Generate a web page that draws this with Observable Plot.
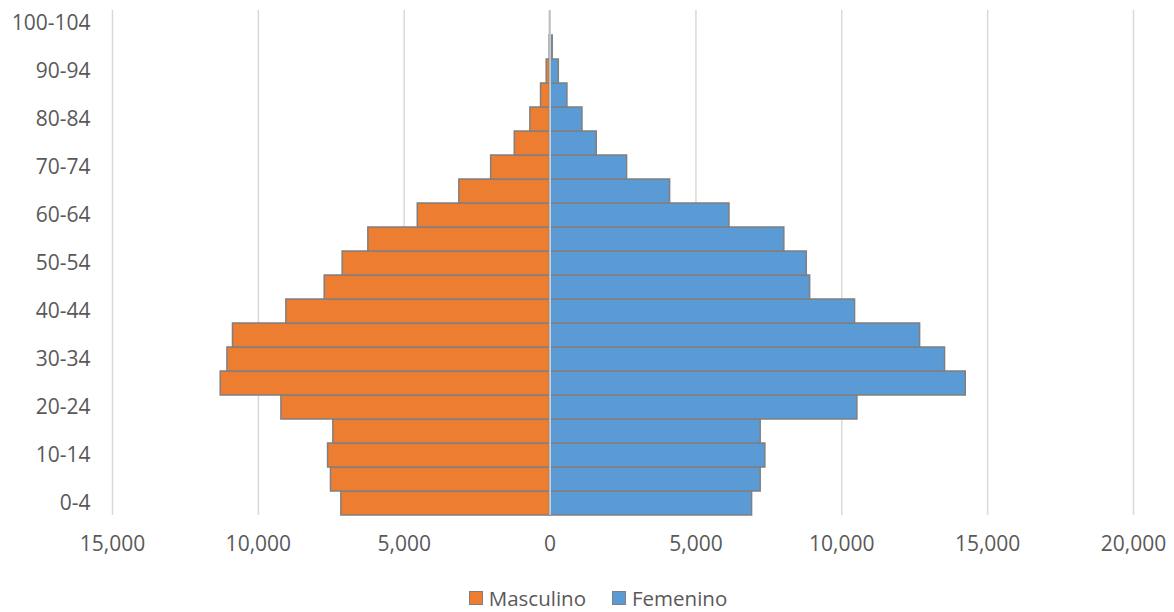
<!DOCTYPE html>
<html>
<head>
<meta charset="utf-8">
<script src="https://cdn.jsdelivr.net/npm/d3@7"></script>
<script src="https://cdn.jsdelivr.net/npm/@observablehq/plot@0.6"></script>
<style>
  body { margin: 0; background: #fff; font-family: "Open Sans", sans-serif; }
  #chart { width: 1174px; }
  .legend { display: flex; justify-content: center; align-items: center; gap: 26px; height: 52px; margin-top: 12px; font-size: 20.5px; color: #595959; padding-left: 22px; box-sizing: border-box; }
  .legend span.sw { display: inline-block; width: 14px; height: 14px; border: 1.5px solid #7f7f7f; margin-right: 6px; box-sizing: border-box; }
  .legend .item { display: flex; align-items: center; }
</style>
</head>
<body>
<div id="chart"></div>
<script>
const ages = ["0-4","5-9","10-14","15-19","20-24","25-29","30-34","35-39","40-44","45-49","50-54","55-59","60-64","65-69","70-74","75-79","80-84","85-89","90-94","95-99","100-104"];
const masculino = [7155,7510,7610,7430,9210,11290,11060,10870,9040,7725,7110,6230,4535,3110,2020,1210,675,310,115,10,0];
const femenino = [6925,7220,7380,7220,10535,14250,13540,12685,10455,8915,8800,8030,6150,4115,2640,1600,1110,595,300,90,15];
const xTicks = [-15000,-10000,-5000,0,5000,10000,15000,20000];
const yTickLabels = ages.filter((d, i) => i % 2 === 0);
const series = ["Masculino", "Femenino"];
const colors = ["#ed7d31", "#5b9bd5"];

const rows = [];
ages.forEach((a, i) => {
  rows.push({age: a, sexo: series[0], value: -masculino[i]});
  rows.push({age: a, sexo: series[1], value: femenino[i]});
});

const fmt = d3.format(",");
const chart = Plot.plot({
  width: 1174,
  height: 560,
  marginLeft: 112,
  marginRight: 41,
  marginTop: 10,
  marginBottom: 45,
  style: {fontFamily: "'Open Sans', sans-serif", fontSize: "21px", color: "#595959"},
  x: {domain: [-15000, 20000]},
  y: {domain: ages.slice().reverse(), padding: 0},
  color: {domain: series, range: colors},
  marks: [
    Plot.gridX(xTicks.filter(d => d !== 0), {stroke: "#d9d9d9", strokeOpacity: 1, strokeWidth: 1.5}),
    Plot.barX(rows, {x: "value", y: "age", fill: "sexo", stroke: "#7f7f7f", strokeWidth: 1.5}),
    Plot.ruleX([0], {stroke: "#d9d9d9", strokeWidth: 1.5}),
    Plot.axisX({ticks: xTicks, tickFormat: d => fmt(Math.abs(d)), tickSize: 0, tickPadding: 21, fill: "#595959", fontSize: 21, label: null}),
    Plot.axisY({ticks: yTickLabels, tickSize: 0, tickPadding: 22, fill: "#595959", fontSize: 21, label: null})
  ]
});
document.getElementById("chart").appendChild(chart);

const legend = document.createElement("div");
legend.className = "legend";
series.forEach((s, i) => {
  const it = document.createElement("div");
  it.className = "item";
  const sw = document.createElement("span");
  sw.className = "sw";
  sw.style.background = colors[i];
  it.appendChild(sw);
  it.appendChild(document.createTextNode(s));
  legend.appendChild(it);
});
document.getElementById("chart").appendChild(legend);
</script>
</body>
</html>
